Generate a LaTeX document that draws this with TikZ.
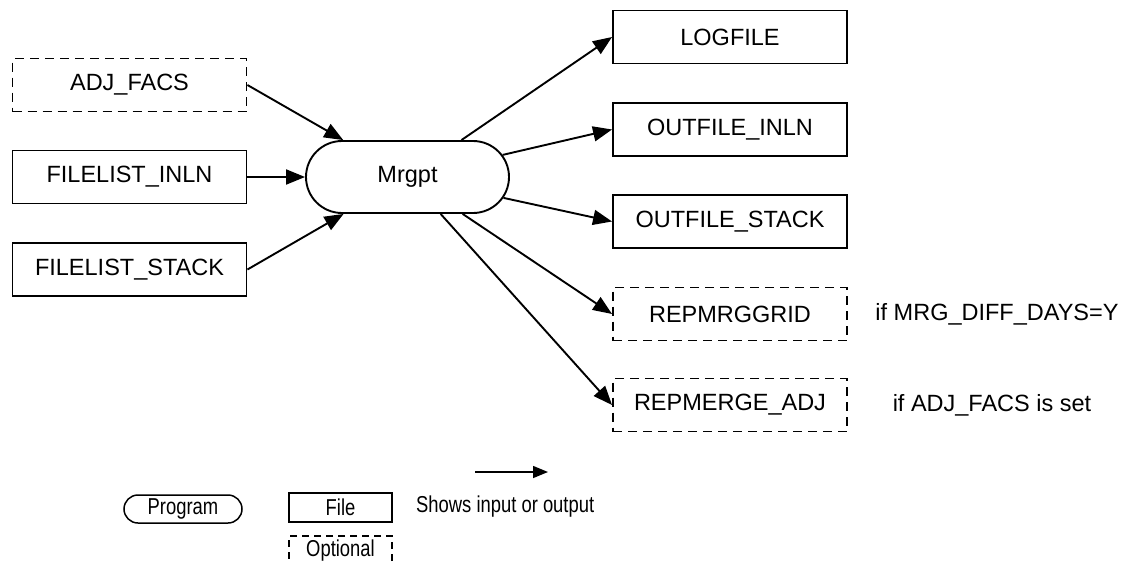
\documentclass[tikz,border=0pt]{standalone}
\usepackage{fontspec}
\setmainfont{Liberation Sans}
\newfontfamily\legendfont[FakeStretch=0.8]{Liberation Sans}
\usetikzlibrary{shapes.misc,arrows.meta}
\tikzset{
  filebox/.style={draw, line width=1.9pt, minimum width=234pt, minimum height=53pt, inner sep=0pt, font=\fontsize{23.5}{27}\selectfont},
  optbox/.style={filebox, dash pattern=on 9pt off 6pt},
  prog/.style={draw, rounded rectangle, line width=1.9pt, minimum width=203pt, minimum height=72pt, inner sep=0pt, font=\fontsize{23.5}{27}\selectfont},
  flow/.style={-{Triangle[length=19pt,width=15pt]}, line width=1.9pt},
  note/.style={font=\fontsize{23.5}{27}\selectfont, inner sep=0pt},
  legtext/.style={font=\legendfont\fontsize{23}{27}\selectfont, inner sep=0pt},
  legbox/.style={draw, line width=1.5pt, minimum width=103pt, minimum height=29pt, inner sep=0pt, font=\legendfont\fontsize{23}{27}\selectfont},
}
\begin{document}
\begin{tikzpicture}[x=1pt,y=-1pt]
\useasboundingbox (0,0) rectangle (1121,562);
\clip (0,0) rectangle (1121,562);
% inputs
\node[optbox] (adj) at (129.5,85) {ADJ\_FACS};
\node[filebox] (fin) at (129.5,177) {FILELIST\_INLN};
\node[filebox] (fst) at (129.5,269.5) {FILELIST\_STACK};
% program
\node[prog] (m) at (407.5,177) {Mrgpt};
% outputs
\node[filebox] (log) at (730,37) {LOGFILE};
\node[filebox] (oin) at (730,129.5) {OUTFILE\_INLN};
\node[filebox] (ost) at (730,221.5) {OUTFILE\_STACK};
\node[optbox] (grid) at (730,314) {REPMRGGRID};
\node[optbox] (madj) at (730,405) {REPMERGE\_ADJ};
\node[note] (c1) at (997,314) {if MRG\_DIFF\_DAYS=Y};
\node[note] (c2) at (992,405) {if ADJ\_FACS is set};
% connectors
\draw[flow] (adj.east) -- (m);
\draw[flow] (fin.east) -- (m.west);
\draw[flow] (fst.east) -- (m);
\draw[flow] (m) -- (log.west);
\draw[flow] (m) -- (oin.west);
\draw[flow] (m) -- (ost.west);
\draw[flow] (m) -- (grid.west);
\draw[flow] (m) -- (madj.west);
% legend
\node[legbox, rounded rectangle, minimum width=118pt, minimum height=28pt] (lp) at (183,509) {Program};
\node[legbox] (lf) at (340.5,507.5) {File};
\node[legbox, dash pattern=on 7pt off 5pt, minimum height=30pt] (lo) at (340.5,551) {Optional};
\node[legtext, anchor=west] (ls) at (416,507) {Shows input or output};
\coordinate (la) at (475,472);
\coordinate (lb) at (548,472);
\draw[-{Triangle[length=15pt,width=12pt]}, line width=1.5pt] (la) -- (lb);
\end{tikzpicture}
\end{document}
